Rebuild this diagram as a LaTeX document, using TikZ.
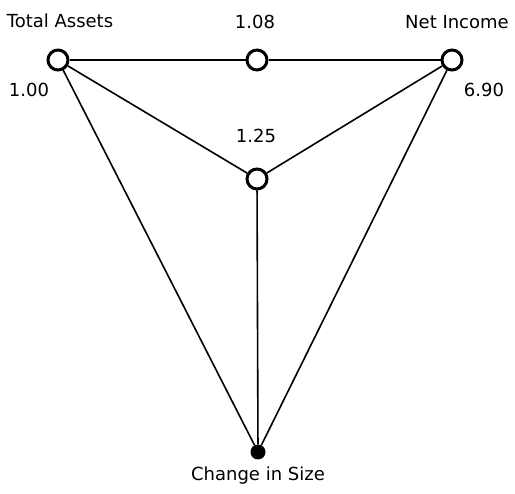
\documentclass[tikz,border=0pt]{standalone}
\usepackage{fontspec}
\setmainfont{DejaVu Sans}
\usepackage{tikz}
\usetikzlibrary{positioning,calc}

\begin{document}
\begin{tikzpicture}[x=1pt, y=-1pt,
  vert/.style={draw, circle, line width=3pt, fill=white,
    minimum size=20pt, inner sep=0pt},
  sink/.style={circle, fill=black, minimum size=15pt, inner sep=0pt},
  lbl/.style={font=\fontsize{18}{20}\selectfont},
  edge/.style={line width=1.6pt}]
  \useasboundingbox (0,0) rectangle (515,494);
  % Vertices
  \node[vert] (ta)  at (58,60)   {};
  \node[vert] (mid) at (257,60)  {};
  \node[vert] (ni)  at (452,60)  {};
  \node[vert] (ctr) at (257,179) {};
  \node[sink] (chg) at (258,452) {};
  % Edges
  \draw[edge] (ta) -- (mid);
  \draw[edge] (mid) -- (ni);
  \draw[edge] (ta) -- (ctr);
  \draw[edge] (ni) -- (ctr);
  \draw[edge] (ctr) -- (chg);
  \draw[edge] (ta) -- (chg);
  \draw[edge] (ni) -- (chg);
  % Labels
  \node[lbl] (taname)  at (60,21)  {Total Assets};
  \node[lbl] (taval)   at (29,90)  {1.00};
  \node[lbl] (midval)  at (255,22) {1.08};
  \node[lbl] (niname)  at (457,22) {Net Income};
  \node[lbl] (nival)   at (484,90) {6.90};
  \node[lbl] (ctrval)  at (256,136) {1.25};
  \node[lbl] (chgname) at (258,476) {Change in Size};
\end{tikzpicture}
\end{document}
